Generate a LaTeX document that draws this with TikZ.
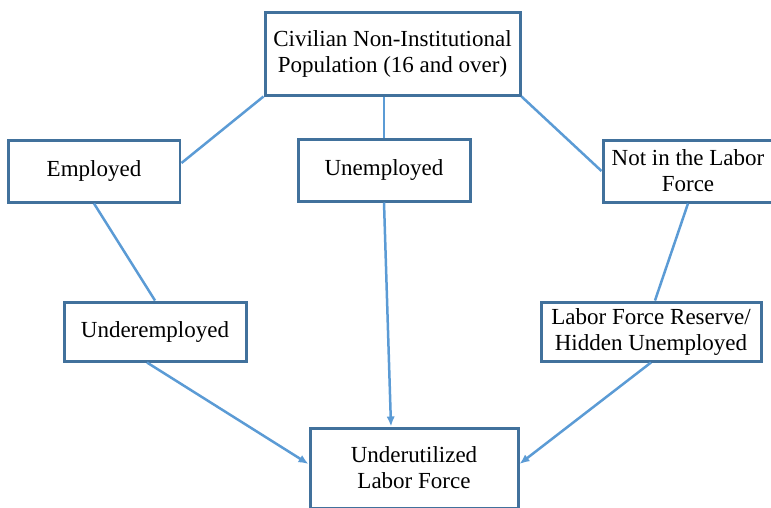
\documentclass[tikz,border=0pt]{standalone}
\usepackage{fontspec}
\setmainfont{Liberation Serif}
\usetikzlibrary{arrows.meta,calc}
\definecolor{boxline}{HTML}{41719C}
\definecolor{link}{HTML}{5B9BD5}
\tikzset{
  box/.style={draw=boxline, line width=1.8pt, fill=white, align=center,
    font=\fontsize{13.8}{15.6}\selectfont, inner sep=2pt},
  conn/.style={draw=link, line width=1.5pt},
  arr/.style={conn, -{Latex[length=6pt,width=5pt]}}
}
\begin{document}
\begin{tikzpicture}[x=0.6pt, y=-0.6pt]
  \useasboundingbox (0,0) rectangle (771,507);

  \node[box, minimum width=153pt, minimum height=49.8pt] (pop) at (392.5,53.5)
    {Civilian Non-Institutional\\Population (16 and over)};
  \node[box, minimum width=103.2pt, minimum height=37.2pt] (emp) at (94,171) {Employed};
  \node[box, minimum width=103.2pt, minimum height=37.2pt] (unemp) at (384,170) {Unemployed};
  \node[box, minimum width=102pt, minimum height=37.2pt] (nilf) at (688,171)
    {Not in the Labor\\Force};
  \node[box, minimum width=109.2pt, minimum height=35.4pt] (under) at (155,331.5) {Underemployed};
  \node[box, minimum width=132pt, minimum height=35.4pt] (lfr) at (651,331.5)
    {Labor Force Reserve/\\Hidden Unemployed};
  \node[box, minimum width=124.8pt, minimum height=48pt] (uu) at (414,468)
    {Underutilized\\Labor Force};

  % upper links
  \draw[conn] (pop.south west) -- ($(emp.east)+(0,-8)$);
  \draw[conn] (unemp.north |- pop.south) -- (unemp.north);
  \draw[conn] (pop.south east) -- (nilf.west);
  \draw[conn] (emp.south) -- (under.north);
  \draw[conn] (nilf.south) -- ($(lfr.north)+(4,0)$);

  % arrows into the bottom box
  \draw[arr] ($(under.south)+(-8,0)$) -- ($(uu.west)+(0,-4)$);
  \draw[arr] (unemp.south) -- ($(uu.north)+(-23,0)$);
  \draw[arr] (lfr.south) -- ($(uu.east)+(0,-4)$);
\end{tikzpicture}
\end{document}
